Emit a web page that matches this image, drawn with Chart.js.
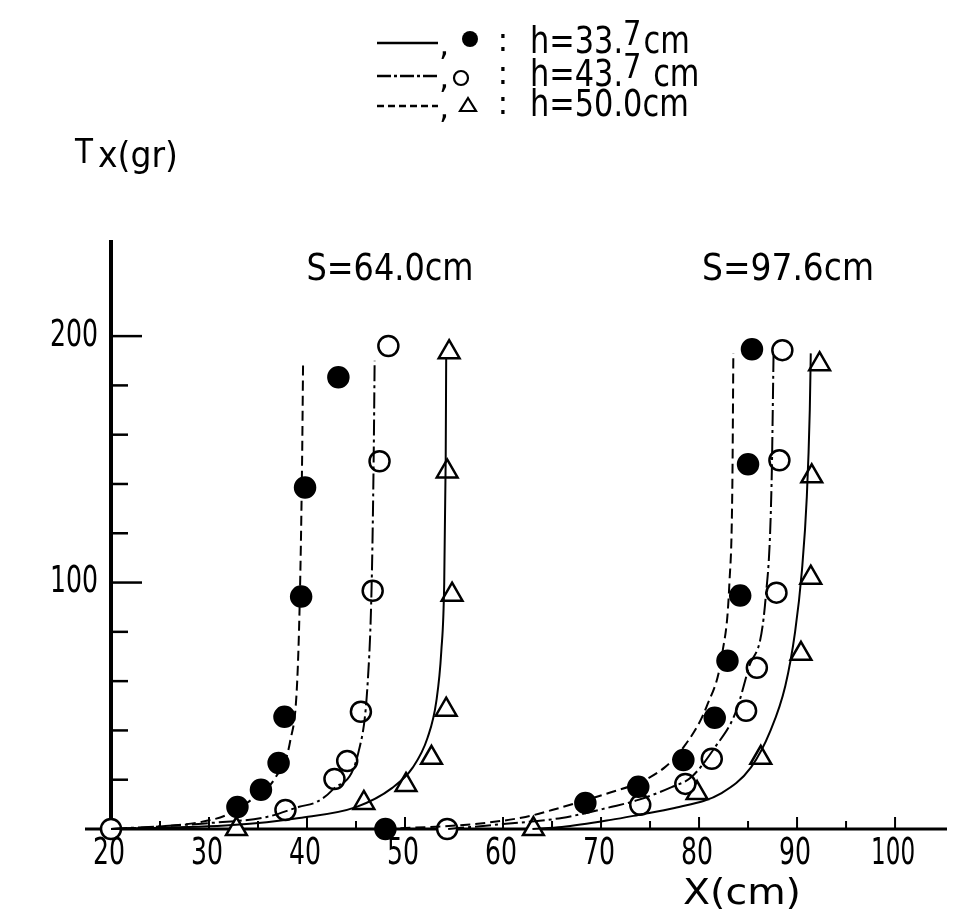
<!DOCTYPE html>
<html>
<head>
<meta charset="utf-8">
<script src="https://cdn.jsdelivr.net/npm/chart.js@4"></script>
<style>
  html, body { margin: 0; padding: 0; background: #fff; }
  canvas { display: block; }
</style>
</head>
<body>
<canvas id="chart" width="962" height="921"></canvas>
<script>
// tick labels
const xTickLabels = [20, 30, 40, 50, 60, 70, 80, 90, 100];
const yTickLabels = [100, 200];

// S = 64.0 cm, markers
const s64FilledX = [32.9, 35.3, 37.1, 37.7, 39.4, 39.8, 43.2, 48.0];
const s64FilledY = [8.9, 15.9, 26.8, 45.5, 94.3, 138.6, 183.3, 0];
const s64OpenX = [20.0, 37.8, 42.8, 44.1, 45.5, 46.7, 47.4, 48.3, 54.3];
const s64OpenY = [0, 7.7, 20.3, 27.6, 47.6, 96.7, 149.2, 196, 0];
const s64TriX = [32.8, 45.8, 50.1, 52.7, 54.2, 54.8, 54.3, 54.5];
const s64TriY = [0, 10.6, 17.9, 28.9, 48.4, 95.1, 145.1, 193.5];

// S = 97.6 cm, markers
const s97FilledX = [68.4, 73.8, 78.4, 81.6, 82.9, 84.2, 85.0, 85.4];
const s97FilledY = [10.6, 17.1, 28.0, 45.1, 68.3, 94.7, 148, 194.7];
const s97OpenX = [74.0, 78.6, 81.3, 84.8, 85.9, 87.9, 88.2, 88.5];
const s97OpenY = [9.8, 18.3, 28.5, 48, 65.4, 95.9, 149.6, 194.3];
const s97TriX = [63.1, 79.8, 86.3, 90.4, 91.4, 91.5, 92.3];
const s97TriY = [0, 14.6, 28.9, 71.1, 102, 143.1, 188.6];

// fitted curves
const s64DashX = [20, 25, 29.1, 31.8, 34.3, 36.8, 38.3, 39.0, 39.3, 39.5, 39.6];
const s64DashY = [0, 1, 2.8, 5.7, 11.8, 21, 36, 60, 100, 150, 190];
const s64DotX = [20, 30, 35.9, 39.2, 41.0, 42.6, 45.3, 46.2, 46.6, 46.8, 46.9];
const s64DotY = [0, 2.4, 4.9, 9, 11, 15.9, 32, 60, 100, 150, 190];
const s64SolidX = [20, 32.4, 39.2, 45.0, 48.7, 50.8, 52.3, 53.2, 53.7, 54.0, 54.15, 54.2];
const s64SolidY = [0, 1.6, 4.5, 8.9, 16.7, 25, 37, 52, 72, 100, 150, 191];

const s97DashX = [48, 57, 62.3, 65, 71.1, 74, 76.5, 78.2, 80.8, 82.4, 83.1, 83.4, 83.5];
const s97DashY = [0, 2, 4.9, 7.7, 15, 19, 25, 32, 50, 72, 100, 140, 193];
const s97DotX = [54.4, 60, 66, 71.1, 73.8, 77.2, 79.2, 81.6, 83.7, 85, 86.8, 87.4, 87.6];
const s97DotY = [0, 2, 4.5, 9, 11.8, 17, 21, 33, 47, 64.6, 94, 140, 192];
const s97SolidX = [63, 66, 71, 73.8, 77.5, 82.3, 85.3, 87.3, 88.8, 89.8, 90.5, 91.0, 91.3, 91.4];
const s97SolidY = [0, 0.8, 3.7, 5.7, 8.5, 14.6, 25, 40, 58, 80, 105, 135, 170, 193];

const zip = (xs, ys) => xs.map((x, i) => ({ x, y: ys[i] }));

function curve(xs, ys, dash) {
  return {
    data: zip(xs, ys), showLine: true, pointRadius: 0, borderColor: '#000',
    borderWidth: 2, borderDash: dash, cubicInterpolationMode: 'monotone', clip: false
  };
}
function marks(xs, ys, style, fill, r) {
  return {
    data: zip(xs, ys), showLine: false, pointStyle: style, pointRadius: r,
    backgroundColor: fill, borderColor: '#000', borderWidth: 2.5, clip: false
  };
}

const DASH = [10, 5], DASHDOT = [16, 4, 3, 4];

// text squeezed to a given width (the scan uses a narrow stencil font)
function txt(c, s, x, y, size, w, align) {
  c.save();
  c.font = size + 'px "DejaVu Sans"';
  const k = w ? w / c.measureText(s).width : 1;
  c.translate(x, y);
  c.scale(k, 1);
  c.textAlign = align || 'center';
  c.textBaseline = 'middle';
  c.fillStyle = '#000';
  c.fillText(s, 0, 0);
  c.restore();
}

const paper = {
  id: 'paper',
  beforeDraw(chart) {
    const c = chart.ctx;
    c.save();
    c.fillStyle = '#fff';
    c.fillRect(0, 0, chart.width, chart.height);
    c.restore();
  },
  beforeDatasetsDraw(chart) {
    const c = chart.ctx, xs = chart.scales.x, ys = chart.scales.y;
    const x0 = xs.getPixelForValue(20), y0 = ys.getPixelForValue(0);
    c.save();
    c.strokeStyle = '#000';
    c.lineCap = 'butt';
    // axes
    c.lineWidth = 4;
    c.beginPath();
    c.moveTo(x0, ys.getPixelForValue(ys.max));
    c.lineTo(x0, y0 + 2);
    c.stroke();
    c.lineWidth = 3;
    c.beginPath();
    c.moveTo(x0 - 26, y0);
    c.lineTo(xs.getPixelForValue(xs.max), y0);
    c.stroke();
    // y ticks, inward
    c.lineWidth = 2.5;
    for (let v = 20; v <= 200; v += 20) {
      const p = ys.getPixelForValue(v);
      const len = v % 100 === 0 ? 31 : 17;
      c.beginPath();
      c.moveTo(x0, p);
      c.lineTo(x0 + len, p);
      c.stroke();
    }
    // x ticks, inward
    c.lineWidth = 2;
    for (let v = 25; v <= 100; v += 5) {
      const p = xs.getPixelForValue(v);
      const len = v % 10 === 0 ? 12 : 8;
      c.beginPath();
      c.moveTo(p, y0);
      c.lineTo(p, y0 - len);
      c.stroke();
    }
    c.restore();
  },
  afterDraw(chart) {
    const c = chart.ctx, xs = chart.scales.x, ys = chart.scales.y;
    // tick labels
    xTickLabels.forEach(v => {
      const s = String(v);
      txt(c, s, xs.getPixelForValue(v) - 2, 854, 38, s.length === 3 ? 44 : 32);
    });
    yTickLabels.forEach(v => {
      txt(c, String(v), 98, ys.getPixelForValue(v), 38, 48, 'right');
    });
    // axis titles
    txt(c, 'X(cm)', 742, 895, 36, 118);
    txt(c, 'T', 75, 154, 34, 18, 'left');
    txt(c, 'x(gr)', 98, 158, 36, 80, 'left');
    // series labels
    txt(c, 'S=64.0cm', 390, 270, 38, 167);
    txt(c, 'S=97.6cm', 788, 270, 38, 172);

    // legend block at the top
    const rows = [
      { y: 43, dash: [], mark: 'filled', mx: 470, pre: 'h=33.', sup: '7', post: 'cm' },
      { y: 76, dash: [14, 3, 3, 3], mark: 'open', mx: 461, pre: 'h=43.', sup: '7', post: ' cm' },
      { y: 106, dash: [7, 4], mark: 'tri', mx: 468, pre: 'h=50.0cm', sup: '', post: '' }
    ];
    c.save();
    rows.forEach(r => {
      c.strokeStyle = '#000';
      c.lineWidth = 2.5;
      c.setLineDash(r.dash);
      c.beginPath();
      c.moveTo(377, r.y);
      c.lineTo(438, r.y);
      c.stroke();
      c.setLineDash([]);
      txt(c, ',', 444, r.y + 4, 32, 0);
      c.lineWidth = 2.2;
      c.beginPath();
      if (r.mark === 'filled') {
        c.arc(r.mx, r.y - 4, 8, 0, Math.PI * 2);
        c.fillStyle = '#000';
        c.fill();
      } else if (r.mark === 'open') {
        c.arc(r.mx, r.y + 2, 7, 0, Math.PI * 2);
        c.stroke();
      } else {
        c.moveTo(r.mx, r.y - 8);
        c.lineTo(r.mx + 8, r.y + 5);
        c.lineTo(r.mx - 8, r.y + 5);
        c.closePath();
        c.stroke();
      }
      txt(c, ':', 503, r.y, 32, 0);
      // text with the raised 7
      c.font = '38px "DejaVu Sans"';
      const k = 0.8;
      let x = 530;
      const wPre = c.measureText(r.pre).width * k;
      txt(c, r.pre, x, r.y, 38, wPre, 'left');
      x += wPre;
      if (r.sup) {
        c.font = '34px "DejaVu Sans"';
        const wSup = c.measureText(r.sup).width * 0.85;
        txt(c, r.sup, x, r.y - 7, 34, wSup, 'left');
        x += wSup + 2;
        c.font = '38px "DejaVu Sans"';
        txt(c, r.post, x, r.y, 38, c.measureText(r.post).width * k, 'left');
      }
    });
    c.restore();
  }
};

new Chart(document.getElementById('chart').getContext('2d'), {
  type: 'scatter',
  data: {
    datasets: [
      curve(s64DashX, s64DashY, DASH),
      curve(s64DotX, s64DotY, DASHDOT),
      curve(s64SolidX, s64SolidY, []),
      curve(s97DashX, s97DashY, DASH),
      curve(s97DotX, s97DotY, DASHDOT),
      curve(s97SolidX, s97SolidY, []),
      marks(s64FilledX, s64FilledY, 'circle', '#000', 10),
      marks(s64OpenX, s64OpenY, 'circle', '#fff', 10),
      marks(s64TriX, s64TriY, 'triangle', '#fff', 12),
      marks(s97FilledX, s97FilledY, 'circle', '#000', 10),
      marks(s97OpenX, s97OpenY, 'circle', '#fff', 10),
      marks(s97TriX, s97TriY, 'triangle', '#fff', 12)
    ]
  },
  options: {
    responsive: false,
    animation: false,
    layout: { padding: { left: 111, right: 15, top: 240, bottom: 92 } },
    scales: {
      x: { type: 'linear', min: 20, max: 105.3, display: false },
      y: { type: 'linear', min: 0, max: 239, display: false }
    },
    plugins: { legend: { display: false }, tooltip: { enabled: false } }
  },
  plugins: [paper]
});
</script>
</body>
</html>
